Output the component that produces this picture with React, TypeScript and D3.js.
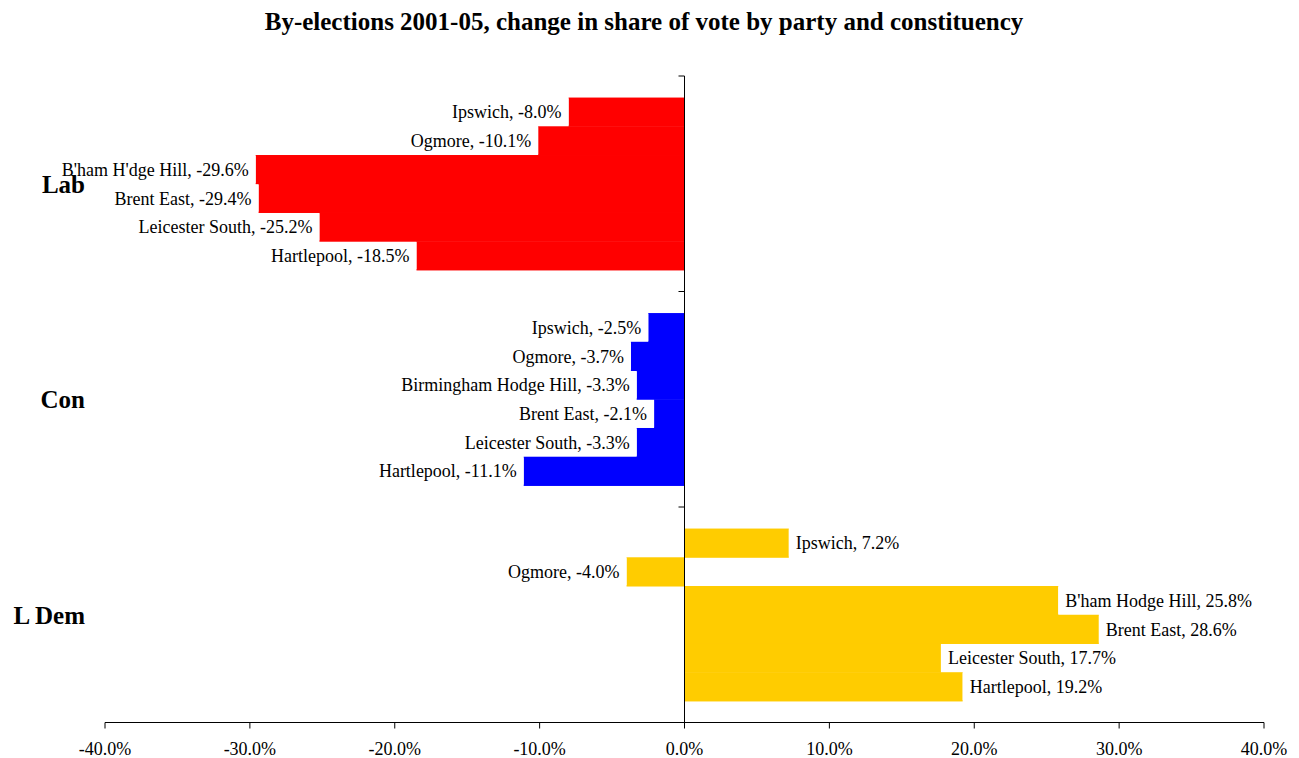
import React, { useEffect, useRef } from 'react';
import * as d3 from 'd3';

// Parties (top to bottom) and their bar colours
const parties = ['Lab', 'Con', 'L Dem'];
const partyColors = ['#ff0000', '#0000ff', '#ffcc00'];

// Constituency label shown for each bar, per party, top to bottom
const labNames = ['Ipswich', 'Ogmore', "B'ham H'dge Hill", 'Brent East', 'Leicester South', 'Hartlepool'];
const conNames = ['Ipswich', 'Ogmore', 'Birmingham Hodge Hill', 'Brent East', 'Leicester South', 'Hartlepool'];
const ldemNames = ['Ipswich', 'Ogmore', "B'ham Hodge Hill", 'Brent East', 'Leicester South', 'Hartlepool'];

// Change in share of vote (percentage points)
const labValues = [-8.0, -10.1, -29.6, -29.4, -25.2, -18.5];
const conValues = [-2.5, -3.7, -3.3, -2.1, -3.3, -11.1];
const ldemValues = [7.2, -4.0, 25.8, 28.6, 17.7, 19.2];

const xTicks = [-40, -30, -20, -10, 0, 10, 20, 30, 40];

const W = 1299;
const H = 758;
const FONT = "'Liberation Serif', 'Times New Roman', serif";

const App: React.FC = () => {
  const svgRef = useRef<SVGSVGElement | null>(null);

  useEffect(() => {
    const svg = d3.select(svgRef.current);
    svg.selectAll('*').remove();

    const plot = { left: 105, right: 1264, top: 76, bottom: 722.5 };

    const x = d3.scaleLinear().domain([-40, 40]).range([plot.left, plot.right]);
    const yParty = d3.scaleBand<string>().domain(parties).range([plot.top, plot.bottom]).padding(0);
    const yBar = d3
      .scaleBand<number>()
      .domain(d3.range(6))
      .range([0, yParty.bandwidth()])
      .paddingInner(0)
      .paddingOuter(0.75);

    const groups = [
      { party: 'Lab', names: labNames, values: labValues, color: partyColors[0] },
      { party: 'Con', names: conNames, values: conValues, color: partyColors[1] },
      { party: 'L Dem', names: ldemNames, values: ldemValues, color: partyColors[2] },
    ];

    // Title
    svg
      .append('text')
      .attr('x', 644)
      .attr('y', 30)
      .attr('text-anchor', 'middle')
      .attr('font-family', FONT)
      .attr('font-weight', 'bold')
      .attr('font-size', 25)
      .text('By-elections 2001-05, change in share of vote by party and constituency');

    // Bars
    groups.forEach(g => {
      const top = yParty(g.party) as number;
      svg
        .append('g')
        .selectAll('rect')
        .data(g.values)
        .join('rect')
        .attr('x', d => Math.min(x(0), x(d)))
        .attr('y', (_, i) => top + (yBar(i) as number))
        .attr('width', d => Math.abs(x(d) - x(0)))
        .attr('height', yBar.bandwidth() + 0.5)
        .attr('fill', g.color);
    });

    // Data labels with white boxes
    groups.forEach(g => {
      const top = yParty(g.party) as number;
      g.values.forEach((v, i) => {
        const yc = top + (yBar(i) as number) + yBar.bandwidth() / 2;
        const lg = svg.append('g');
        const box = lg.append('rect').attr('fill', '#ffffff');
        const neg = v < 0;
        const t = lg
          .append('text')
          .attr('x', neg ? x(v) - 7 : x(v) + 7)
          .attr('y', yc + 6.4)
          .attr('text-anchor', neg ? 'end' : 'start')
          .attr('font-family', FONT)
          .attr('font-size', 18)
          .attr('fill', '#000')
          .text(`${g.names[i]}, ${v.toFixed(1)}%`);
        const bb = (t.node() as SVGTextElement).getBBox();
        box
          .attr('x', neg ? bb.x - 5 : x(v))
          .attr('y', yc - 13.5)
          .attr('width', neg ? x(v) - (bb.x - 5) : bb.width + 12)
          .attr('height', 27);
      });
    });

    // Value axis (bottom)
    const axis = svg.append('g');
    axis
      .append('line')
      .attr('x1', plot.left)
      .attr('x2', plot.right)
      .attr('y1', plot.bottom)
      .attr('y2', plot.bottom)
      .attr('stroke', '#000');
    axis
      .selectAll('line.tick')
      .data(xTicks)
      .join('line')
      .attr('class', 'tick')
      .attr('x1', d => x(d))
      .attr('x2', d => x(d))
      .attr('y1', plot.bottom)
      .attr('y2', plot.bottom + 6)
      .attr('stroke', '#000');
    axis
      .selectAll('text')
      .data(xTicks)
      .join('text')
      .attr('x', d => x(d))
      .attr('y', 755)
      .attr('text-anchor', 'middle')
      .attr('font-family', FONT)
      .attr('font-size', 18)
      .text(d => `${d.toFixed(1)}%`);

    // Category axis at zero
    const cat = svg.append('g');
    cat
      .append('line')
      .attr('x1', x(0))
      .attr('x2', x(0))
      .attr('y1', plot.top)
      .attr('y2', plot.bottom)
      .attr('stroke', '#000');
    const bounds = [...parties.map(p => yParty(p) as number), plot.bottom];
    cat
      .selectAll('line.tick')
      .data(bounds)
      .join('line')
      .attr('class', 'tick')
      .attr('x1', x(0) - 6)
      .attr('x2', x(0))
      .attr('y1', d => d)
      .attr('y2', d => d)
      .attr('stroke', '#000');

    // Party labels
    svg
      .append('g')
      .selectAll('text')
      .data(parties)
      .join('text')
      .attr('x', 85)
      .attr('y', d => (yParty(d) as number) + yParty.bandwidth() / 2 + 9)
      .attr('text-anchor', 'end')
      .attr('font-family', FONT)
      .attr('font-weight', 'bold')
      .attr('font-size', 25)
      .text(d => d);
  }, []);

  return (
    <svg
      ref={svgRef}
      width={W}
      height={H}
      style={{ position: 'absolute', left: 0, top: 0, background: '#fff' }}
    />
  );
};

export default App;
